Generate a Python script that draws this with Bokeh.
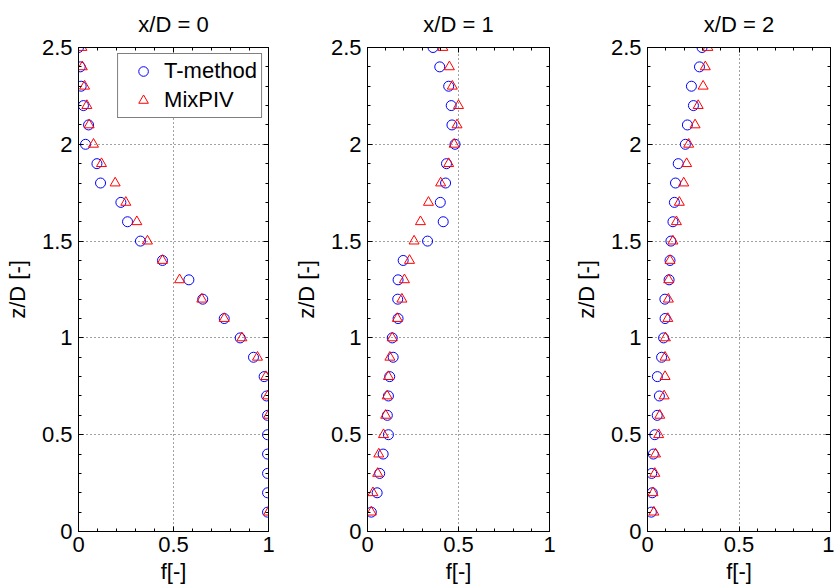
from bokeh.plotting import figure
from bokeh.layouts import row
from bokeh.models import (Range1d, FixedTicker, LinearAxis, Legend, LegendItem,
                          ColumnDataSource, CustomLabelingPolicy)
from bokeh.embed import file_html
from bokeh.resources import INLINE

nan = float("nan")

# heights z/D
z_levels = [0.1, 0.2, 0.3, 0.4, 0.5, 0.6, 0.7, 0.8, 0.9, 1.0, 1.1, 1.2, 1.3,
            1.4, 1.5, 1.6, 1.7, 1.8, 1.9, 2.0, 2.1, 2.2, 2.3, 2.4, 2.5]

# x/D = 0
t_xd0 = [0.995, 0.995, 0.995, 0.995, 0.995, 0.995, 0.99, 0.977, 0.921, 0.851, 0.767, 0.654, 0.581,
         0.442, 0.326, 0.258, 0.223, 0.116, 0.097, 0.037, 0.053, 0.026, 0.014, 0.009, 0.0]
m_xd0 = [1.0, nan, nan, nan, nan, 1.0, 0.996, 0.986, 0.942, 0.86, 0.767, 0.649, 0.532,
         0.442, 0.363, 0.307, 0.249, 0.193, 0.121, 0.079, 0.056, 0.044, 0.032, 0.02, 0.018]

# x/D = 1
t_xd1 = [0.021, 0.053, 0.067, 0.086, 0.115, 0.109, 0.115, 0.122, 0.141, 0.136, 0.168, 0.166, 0.168,
         0.196, 0.33, 0.416, 0.40, 0.429, 0.434, 0.481, 0.464, 0.46, 0.446, 0.397, 0.36]
m_xd1 = [0.021, 0.03, 0.056, 0.062, 0.088, 0.10, 0.108, 0.115, 0.123, 0.136, 0.164, 0.189, 0.203,
         0.231, 0.256, 0.291, 0.335, 0.402, 0.446, 0.476, 0.492, 0.50, 0.466, 0.45, 0.414]

# x/D = 2
t_xd2 = [0.021, 0.026, 0.023, 0.032, 0.04, 0.053, 0.065, 0.054, 0.077, 0.088, 0.096, 0.095, 0.118,
         0.123, 0.128, 0.139, 0.147, 0.153, 0.168, 0.207, 0.218, 0.251, 0.24, 0.284, 0.298]
m_xd2 = [0.035, 0.03, 0.04, 0.044, 0.061, 0.067, 0.091, 0.096, 0.096, 0.098, 0.111, 0.114, 0.116,
         0.123, 0.139, 0.158, 0.174, 0.198, 0.214, 0.225, 0.26, 0.277, 0.304, 0.316, 0.33]

titles = ["x/D = 0", "x/D = 1", "x/D = 2"]
series_names = ["T-method", "MixPIV"]

x_ticks = [0, 0.5, 1]
x_tick_labels = ["0", "0.5", "1"]
x_minor = [0.1, 0.2, 0.3, 0.4, 0.6, 0.7, 0.8, 0.9]
y_ticks = [0, 0.5, 1, 1.5, 2, 2.5]
y_tick_labels = ["0", "0.5", "1", "1.5", "2", "2.5"]
y_minor = [0.1, 0.2, 0.3, 0.4, 0.6, 0.7, 0.8, 0.9, 1.1, 1.2, 1.3, 1.4, 1.6, 1.7, 1.8, 1.9,
           2.1, 2.2, 2.3, 2.4]

FONT = "Liberation Sans"
FS = "22px"

NO_LABELS = "for (const i of indices) { indices.unset(i) }\nreturn indices"


def style_axis(ax, ticks, minor, labels, show_labels=True, std=5, label_std=6):
    ax.ticker = FixedTicker(ticks=ticks, minor_ticks=minor)
    ax.major_tick_in = 5
    ax.major_tick_out = 0
    ax.minor_tick_in = 3
    ax.minor_tick_out = 0
    ax.axis_line_color = "black"
    ax.major_tick_line_color = "black"
    ax.minor_tick_line_color = "black"
    if show_labels:
        ax.major_label_overrides = {t: l for t, l in zip(ticks, labels)}
        ax.major_label_text_font = FONT
        ax.major_label_text_font_size = FS
        ax.major_label_text_color = "black"
        ax.major_label_standoff = std
        ax.axis_label_standoff = label_std
        ax.axis_label_text_font = FONT
        ax.axis_label_text_font_size = FS
        ax.axis_label_text_font_style = "normal"
        ax.axis_label_text_color = "black"
    else:
        ax.major_label_policy = CustomLabelingPolicy(code=NO_LABELS)
        ax.major_label_text_font_size = "1px"
        ax.major_label_standoff = 0
        ax.axis_label = None


def make_panel(title, t_vals, m_vals, width, left, right, legend=False):
    p = figure(width=width, height=587, output_backend="svg", toolbar_location=None,
               x_range=Range1d(0, 1), y_range=Range1d(0, 2.5),
               min_border_left=left, min_border_right=right,
               min_border_top=47, min_border_bottom=56, title=title)
    p.title.text_font = FONT
    p.title.text_font_size = FS
    p.title.text_font_style = "normal"
    p.title.text_color = "black"
    p.title.align = "center"
    p.title.standoff = 14
    p.outline_line_color = "black"
    p.background_fill_color = "white"
    p.border_fill_color = "white"

    style_axis(p.xaxis[0], x_ticks, x_minor, x_tick_labels, std=5, label_std=4)
    style_axis(p.yaxis[0], y_ticks, y_minor, y_tick_labels, std=6, label_std=9)
    p.xaxis[0].axis_label = "f[-]"
    p.yaxis[0].axis_label = "z/D [-]"

    top = LinearAxis()
    style_axis(top, x_ticks, x_minor, x_tick_labels, show_labels=False)
    p.add_layout(top, "above")
    rgt = LinearAxis()
    style_axis(rgt, y_ticks, y_minor, y_tick_labels, show_labels=False)
    p.add_layout(rgt, "right")

    for g in (p.xgrid[0], p.ygrid[0]):
        g.grid_line_color = "#444444"
        g.grid_line_dash = "1 3"
        g.grid_line_width = 1

    src = ColumnDataSource(dict(z=z_levels, t=t_vals, m=m_vals))
    r1 = p.scatter("t", "z", source=src, marker="circle", size=10,
                   fill_color=None, line_color="#0000ff", line_width=1)
    r2 = p.scatter("m", "z", source=src, marker="triangle", size=10,
                   fill_color=None, line_color="#ff0000", line_width=1)
    if legend:
        lg = Legend(items=[LegendItem(label=series_names[0], renderers=[r1]),
                           LegendItem(label=series_names[1], renderers=[r2])],
                    location="top_right")
        lg.border_line_color = "black"
        lg.border_line_width = 1
        lg.background_fill_color = "white"
        lg.background_fill_alpha = 1
        lg.label_text_font = FONT
        lg.label_text_font_size = FS
        lg.label_text_color = "black"
        lg.label_height = 24
        lg.glyph_height = 24
        lg.glyph_width = 42
        lg.padding = 4
        lg.spacing = 3
        lg.margin = 6
        lg.label_standoff = 0
        p.add_layout(lg)
    return p


p1 = make_panel(titles[0], t_xd0, m_xd0, 290, 78, 22, legend=True)
p2 = make_panel(titles[1], t_xd1, m_xd1, 280, 71, 21)
p3 = make_panel(titles[2], t_xd2, m_xd2, 264, 73, 1)

layout = row(p1, p2, p3)
open("out.html", "w").write(file_html(layout, INLINE))
